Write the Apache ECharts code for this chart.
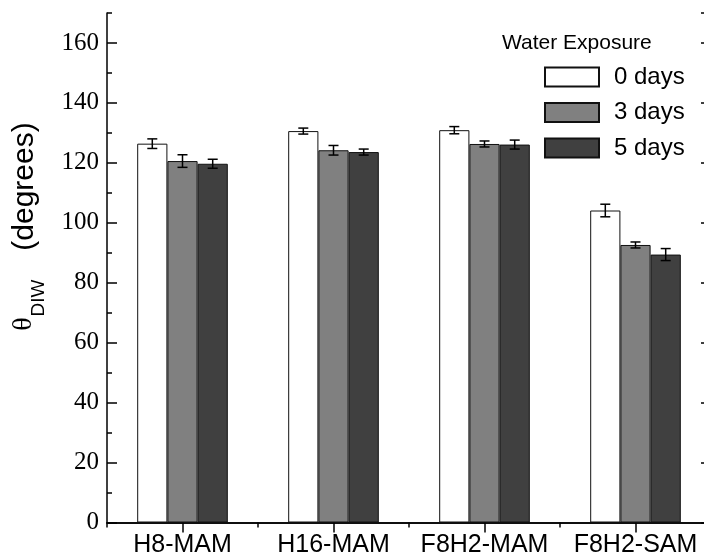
<!DOCTYPE html>
<html>
<head>
<meta charset="utf-8">
<script src="https://cdn.jsdelivr.net/npm/echarts@6/dist/echarts.min.js"></script>
<style>
  html, body { margin: 0; padding: 0; background: #fff; }
  #chart { width: 704px; height: 556px; }
</style>
</head>
<body>
<div id="chart"></div>
<script>
// Contact angle data (degrees) for each monolayer after water exposure
const categories = ['H8-MAM', 'H16-MAM', 'F8H2-MAM', 'F8H2-SAM'];
const seriesNames = ['0 days', '3 days', '5 days'];
const days0 = [126.4, 130.6, 130.9, 104.1];
const days3 = [120.6, 124.2, 126.3, 92.6];
const days5 = [119.7, 123.6, 126.1, 89.4];
const err0 = [1.6, 1.0, 1.2, 2.1];
const err3 = [2.1, 1.6, 1.0, 1.0];
const err5 = [1.5, 1.0, 1.5, 2.0];
const yMin = 0, yMax = 170, yStep = 20, yMinorStep = 10;

const values = [days0, days3, days5];
const errors = [err0, err3, err5];
const fills = ['#ffffff', '#808080', '#404040'];

const SANS = '"Liberation Sans", Arial, sans-serif';
const SERIF = '"Liberation Serif", "Times New Roman", serif';

const chart = echarts.init(document.getElementById('chart'), null, { renderer: 'canvas' });

const barSeries = values.map((vals, i) => ({
  name: seriesNames[i],
  type: 'bar',
  xAxisIndex: 0,
  yAxisIndex: 0,
  data: vals,
  barGap: '0%',
  barCategoryGap: '40%',
  itemStyle: { color: fills[i], borderColor: '#111', borderWidth: 1 }
}));

// Error bars, placed over the matching bar within each category band
const errorSeries = values.map((vals, i) => ({
  type: 'custom',
  xAxisIndex: 0,
  yAxisIndex: 0,
  z: 5,
  encode: { x: 0, y: 1 },
  data: vals.map((v, k) => [k, v, errors[i][k]]),
  renderItem: function (params, api) {
    const band = api.size([1, 0])[0];
    const offset = (i - 1) * band * 0.2;
    const v = api.value(1), e = api.value(2);
    const top = api.coord([api.value(0), v + e]);
    const bot = api.coord([api.value(0), v - e]);
    const x = top[0] + offset;
    const cap = 5;
    const st = { stroke: '#000', lineWidth: 1.5 };
    return {
      type: 'group',
      children: [
        { type: 'line', shape: { x1: x, y1: top[1], x2: x, y2: bot[1] }, style: st },
        { type: 'line', shape: { x1: x - cap, y1: top[1], x2: x + cap, y2: top[1] }, style: st },
        { type: 'line', shape: { x1: x - cap, y1: bot[1], x2: x + cap, y2: bot[1] }, style: st }
      ]
    };
  }
}));

const axisLine = { show: true, lineStyle: { color: '#000', width: 1.5 } };
const tickStyle = { color: '#000', width: 1.5 };

const option = {
  animation: false,
  backgroundColor: '#fff',
  grid: { left: 107, top: 13, width: 604, height: 509.5, containLabel: false, outerBoundsMode: 'none' },
  legend: {
    data: seriesNames,
    orient: 'vertical',
    left: 544,
    top: 65,
    padding: 0,
    itemWidth: 54,
    itemHeight: 19,
    itemGap: 11.5,
    icon: 'rect',
    selectedMode: false,
    textStyle: { fontFamily: SANS, fontSize: 24, color: '#000', padding: [0, 0, 0, 10] }
  },
  graphic: [
    {
      type: 'text', x: 502, y: 43.5,
      style: { text: 'Water Exposure', font: '21px ' + SANS, fill: '#000',
               align: 'left', verticalAlign: 'middle', textAlign: 'left', textVerticalAlign: 'middle' }
    },
    {
      type: 'text', x: 23.5, y: 324, rotation: Math.PI / 2,
      style: { text: 'θ', font: '28px ' + SERIF, fill: '#000',
               align: 'center', verticalAlign: 'middle', textAlign: 'center', textVerticalAlign: 'middle' }
    },
    {
      type: 'text', x: 39, y: 298, rotation: Math.PI / 2,
      style: { text: 'DIW', font: '19px ' + SANS, fill: '#000',
               align: 'center', verticalAlign: 'middle', textAlign: 'center', textVerticalAlign: 'middle' }
    },
    {
      type: 'text', x: 25, y: 186.5, rotation: Math.PI / 2,
      style: { text: '(degrees)', font: '30px ' + SANS, fill: '#000',
               align: 'center', verticalAlign: 'middle', textAlign: 'center', textVerticalAlign: 'middle' }
    }
  ],
  xAxis: [
    {
      type: 'category', position: 'bottom', data: categories,
      axisLine: axisLine,
      axisTick: { show: true, inside: false, length: 3, alignWithLabel: false, interval: 0, lineStyle: tickStyle },
      axisLabel: { fontFamily: SANS, fontSize: 25, color: '#000', margin: 10, interval: 0 },
      splitLine: { show: false }
    },
    {
      type: 'category', position: 'bottom', data: categories,
      axisLine: { show: false },
      axisTick: { show: true, inside: false, length: 3, alignWithLabel: true, interval: 0, lineStyle: tickStyle },
      axisLabel: { show: false },
      splitLine: { show: false }
    },
    {
      type: 'category', position: 'top', data: categories,
      axisLine: axisLine,
      axisTick: { show: true, inside: true, length: 10, alignWithLabel: true, interval: 0, lineStyle: tickStyle },
      axisLabel: { show: false },
      splitLine: { show: false }
    },
    {
      type: 'category', position: 'top', data: categories,
      axisLine: { show: false },
      axisTick: { show: true, inside: true, length: 5, alignWithLabel: false, interval: 0, lineStyle: tickStyle },
      axisLabel: { show: false },
      splitLine: { show: false }
    }
  ],
  yAxis: [
    {
      type: 'value', position: 'left', min: yMin, max: yMax, interval: yStep,
      axisLine: axisLine,
      axisTick: { show: true, inside: true, length: 10, lineStyle: tickStyle },
      axisLabel: { fontFamily: SERIF, fontSize: 25, color: '#000', margin: 8, showMaxLabel: false },
      splitLine: { show: false }
    },
    {
      type: 'value', position: 'left', min: yMin, max: yMax, interval: yMinorStep,
      axisLine: { show: false },
      axisTick: { show: true, inside: true, length: 5, lineStyle: tickStyle },
      axisLabel: { show: false },
      splitLine: { show: false }
    },
    {
      type: 'value', position: 'right', min: yMin, max: yMax, interval: yStep,
      axisLine: axisLine,
      axisTick: { show: true, inside: true, length: 10, lineStyle: tickStyle },
      axisLabel: { show: false },
      splitLine: { show: false }
    },
    {
      type: 'value', position: 'right', min: yMin, max: yMax, interval: yMinorStep,
      axisLine: { show: false },
      axisTick: { show: true, inside: true, length: 5, lineStyle: tickStyle },
      axisLabel: { show: false },
      splitLine: { show: false }
    }
  ],
  series: barSeries.concat(errorSeries)
};

chart.setOption(option);
</script>
</body>
</html>
